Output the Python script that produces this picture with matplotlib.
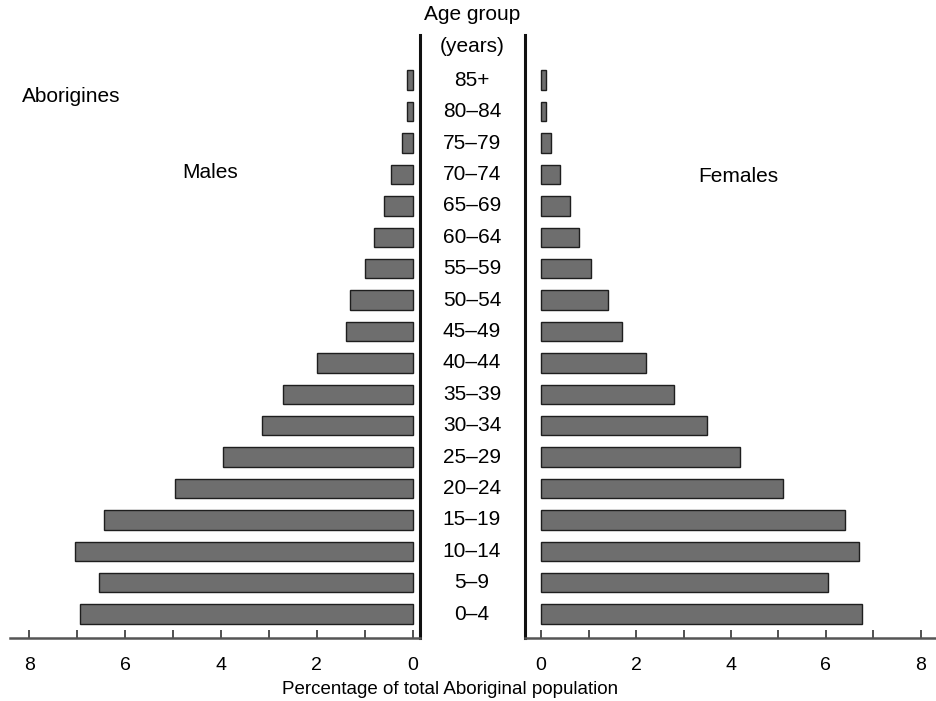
import matplotlib.pyplot as plt
import matplotlib.transforms as mtransforms
import numpy as np

plt.rcParams['font.family'] = ['Liberation Sans', 'DejaVu Sans']

# Age groups, youngest first
age_groups = ['0–4', '5–9', '10–14', '15–19', '20–24', '25–29', '30–34', '35–39',
              '40–44', '45–49', '50–54', '55–59', '60–64', '65–69', '70–74',
              '75–79', '80–84', '85+']
# Percentage of total Aboriginal population
males = [6.95, 6.55, 7.05, 6.45, 4.95, 3.95, 3.15, 2.7, 2.0, 1.4, 1.3,
         1.0, 0.8, 0.6, 0.45, 0.22, 0.12, 0.12]
females = [6.75, 6.05, 6.7, 6.4, 5.1, 4.2, 3.5, 2.8, 2.2, 1.7, 1.4,
           1.05, 0.8, 0.6, 0.4, 0.2, 0.1, 0.1]
ticks = [0, 2, 4, 6, 8]

fig = plt.figure(figsize=(9.37, 7.01), dpi=100)
ax_m = fig.add_axes([10 / 937, 63 / 701, 410 / 937, 603 / 701])
ax_f = fig.add_axes([525 / 937, 63 / 701, 412 / 937, 603 / 701])

y = np.arange(len(age_groups))
bar_kw = dict(height=0.62, color='#6e6e6e', edgecolor='#1e1e1e', linewidth=1.0)
ax_m.barh(y, males, **bar_kw)
ax_f.barh(y, females, **bar_kw)

ax_m.set_xlim(8.4, -0.15)
ax_f.set_xlim(-0.34, 8.34)

for ax, side in ((ax_m, 'right'), (ax_f, 'left')):
    ax.set_ylim(-0.76, 18.44)
    ax.set_yticks([])
    for s in ('top', 'left', 'right'):
        ax.spines[s].set_visible(False)
    ax.spines[side].set_visible(True)
    ax.spines[side].set_linewidth(2.2)
    ax.spines[side].set_color('#111111')
    ax.spines['bottom'].set_linewidth(1.8)
    ax.spines['bottom'].set_color('#555555')
    ax.set_xticks(ticks)
    ax.set_xticks([1, 3, 5, 7], minor=True)
    ax.tick_params(axis='x', which='both', direction='in', length=6, width=1.2,
                   color='#333333', labelsize=14, pad=14)
    ax.patch.set_alpha(0)

# age group labels in the gap between the two halves
trans = mtransforms.blended_transform_factory(fig.transFigure, ax_m.transData)
for yi, lab in zip(y, age_groups):
    fig.text(472 / 937, yi, lab, transform=trans, ha='center', va='center', fontsize=15)

fig.text(472 / 937, 1 - 15 / 701, 'Age group', ha='center', va='center', fontsize=15)
fig.text(472 / 937, 1 - 46 / 701, '(years)', ha='center', va='center', fontsize=15)
fig.text(22 / 937, 1 - 97 / 701, 'Aborigines', ha='left', va='center', fontsize=15)
fig.text(210 / 937, 1 - 172 / 701, 'Males', ha='center', va='center', fontsize=15)
fig.text(738 / 937, 1 - 177 / 701, 'Females', ha='center', va='center', fontsize=15)
fig.text(450 / 937, 1 - 690 / 701, 'Percentage of total Aboriginal population',
         ha='center', va='center', fontsize=13.5)

fig.savefig('out.png', dpi=100)
